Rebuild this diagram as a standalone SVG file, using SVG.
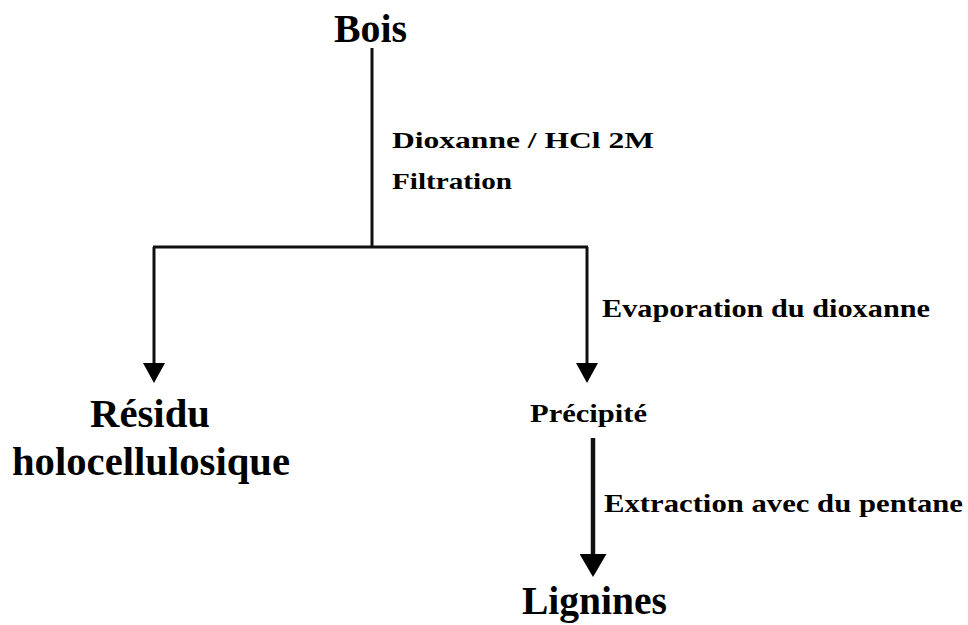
<svg xmlns="http://www.w3.org/2000/svg" width="968" height="625" viewBox="0 0 968 625">
<defs>
<style>
text { font-family: "Liberation Serif", "Times New Roman", serif; font-weight: bold; fill: #000; }
.big { font-size: 40px; }
.lbl { font-size: 24px; }
.mid { font-size: 25px; }
.ln { stroke: #111; stroke-width: 3; fill: none; }
.thick { stroke: #111; stroke-width: 4.5; fill: none; }
</style>
<marker id="ah" markerUnits="userSpaceOnUse" markerWidth="20" markerHeight="22" refX="0" refY="11" orient="auto" viewBox="0 0 20 22">
<path d="M0,0 L20,11 L0,22 Z" fill="#000"/>
</marker>
<marker id="ah2" markerUnits="userSpaceOnUse" markerWidth="23" markerHeight="27" refX="0" refY="13.5" orient="auto" viewBox="0 0 23 27">
<path d="M0,0 L23,13.5 L0,27 Z" fill="#000"/>
</marker>
</defs>
<rect width="968" height="625" fill="#fff"/>
<g id="connectors">
<path class="ln" d="M372,48 V247"/>
<path class="ln" d="M153,247 H588"/>
<path class="ln" d="M154,247 V363" marker-end="url(#ah)"/>
<path class="ln" d="M587,247 V363" marker-end="url(#ah)"/>
<path class="thick" d="M593,438 V554" marker-end="url(#ah2)"/>
</g>
<g id="bois"><text class="big" x="334" y="42" textLength="73" lengthAdjust="spacingAndGlyphs">Bois</text></g>
<g id="label-dioxanne">
<text class="lbl" x="392" y="148" textLength="262" lengthAdjust="spacingAndGlyphs">Dioxanne / HCl 2M</text>
<text class="lbl" x="392" y="189" textLength="120" lengthAdjust="spacingAndGlyphs">Filtration</text>
</g>
<g id="residu">
<text class="big" x="90" y="427" textLength="120" lengthAdjust="spacingAndGlyphs">Résidu</text>
<text class="big" x="12" y="475" textLength="278" lengthAdjust="spacingAndGlyphs">holocellulosique</text>
</g>
<g id="label-evaporation"><text class="mid" x="602" y="317" textLength="328" lengthAdjust="spacingAndGlyphs">Evaporation du dioxanne</text></g>
<g id="precipite"><text class="mid" x="530" y="422" textLength="117" lengthAdjust="spacingAndGlyphs">Précipité</text></g>
<g id="label-extraction"><text class="mid" x="604" y="512" textLength="359" lengthAdjust="spacingAndGlyphs">Extraction avec du pentane</text></g>
<g id="lignines"><text class="big" x="522" y="614" textLength="145" lengthAdjust="spacingAndGlyphs">Lignines</text></g>
</svg>
